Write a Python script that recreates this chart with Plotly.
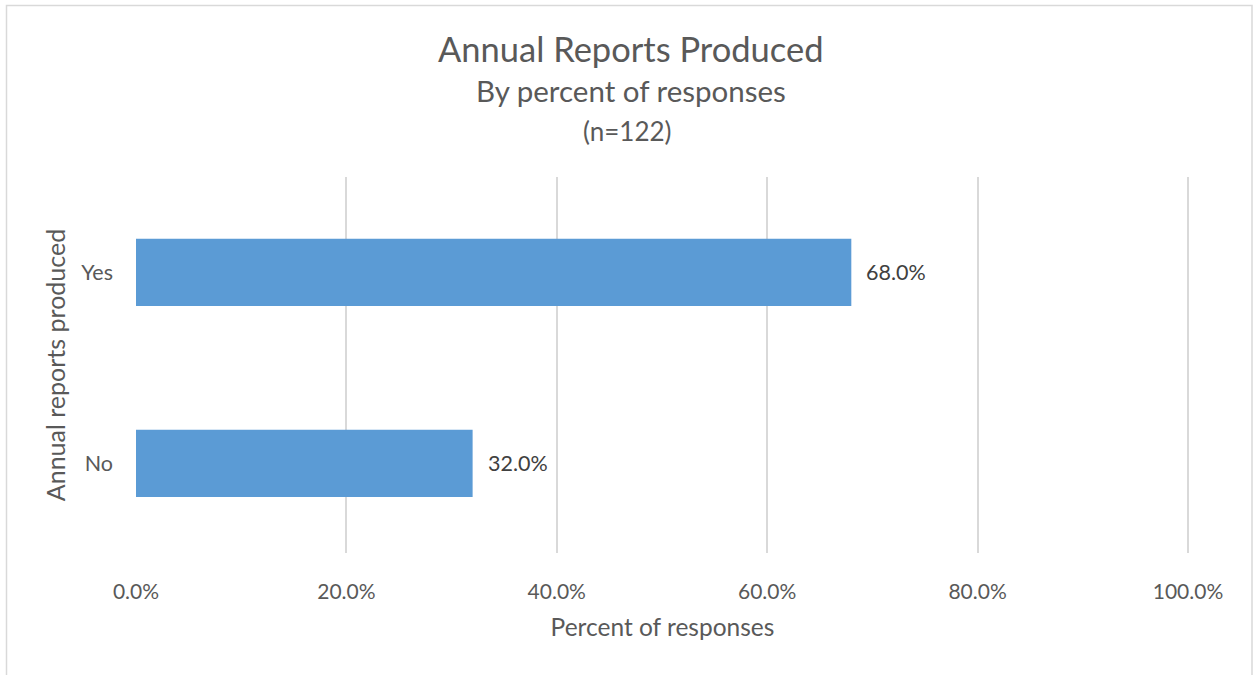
import plotly.graph_objects as go

categories = ["No", "Yes"]
values = [32.0, 68.0]
tick_vals = [0, 20, 40, 60, 80, 100]
tick_text = ["0.0%", "20.0%", "40.0%", "60.0%", "80.0%", "100.0%"]

W, H = 1253, 675
L, R, T, B = 136, 64, 177, 122
pw, ph = W - L - R, H - T - B

def px_x(x):
    return (x - L) / pw

def px_y(y):
    return (H - B - y) / ph

FONT = "Lato"
GREY = "#595959"

fig = go.Figure(go.Bar(
    y=categories, x=values, orientation="h",
    marker=dict(color="#5b9bd5", line=dict(width=0)),
    width=0.352,
    hoverinfo="x+y",
))

for cat, v in zip(categories, values):
    fig.add_annotation(x=v, y=cat, xref="x", yref="y", text=f"{v:.1f}%",
                       showarrow=False, xanchor="left", yanchor="middle",
                       xshift=13,
                       font=dict(family=FONT, size=21.5, color="#404040"))

fig.update_layout(
    width=W, height=H,
    margin=dict(l=L, r=R, t=T, b=B),
    paper_bgcolor="white", plot_bgcolor="white",
    showlegend=False,
    xaxis=dict(range=[0, 100.1], tickvals=tick_vals, ticktext=tick_text,
               showgrid=True, gridcolor="#d9d9d9", gridwidth=1.5,
               zeroline=False, showline=False, ticks="",
               tickfont=dict(family=FONT, size=21, color=GREY),
               ticklabelstandoff=24,
               title=dict(text="Percent of responses", standoff=16,
                          font=dict(family=FONT, size=24.5, color=GREY))),
    yaxis=dict(range=[-0.469, 1.5], showgrid=False, zeroline=False,
               showline=False, ticks="",
               tickfont=dict(family=FONT, size=21.5, color=GREY),
               ticklabelstandoff=22,
               title=dict(text="Annual reports produced", standoff=8,
                          font=dict(family=FONT, size=25, color=GREY))),
)

fig.add_annotation(text="Annual Reports Produced", xref="paper", yref="paper",
                   x=px_x(631), y=px_y(48), showarrow=False,
                   xanchor="center", yanchor="middle",
                   font=dict(family=FONT, size=34.5, color=GREY))
fig.add_annotation(text="By percent of responses", xref="paper", yref="paper",
                   x=px_x(631), y=px_y(91), showarrow=False,
                   xanchor="center", yanchor="middle",
                   font=dict(family=FONT, size=29.5, color=GREY))
fig.add_annotation(text="(n=122)", xref="paper", yref="paper",
                   x=px_x(627), y=px_y(131), showarrow=False,
                   xanchor="center", yanchor="middle",
                   font=dict(family=FONT, size=26, color=GREY))

fig.add_shape(type="rect", xref="paper", yref="paper",
              x0=px_x(6.5), x1=px_x(1252), y0=px_y(690), y1=px_y(5.5),
              line=dict(color="#d9d9d9", width=1.5), layer="below")

fig.write_html("out.html")
